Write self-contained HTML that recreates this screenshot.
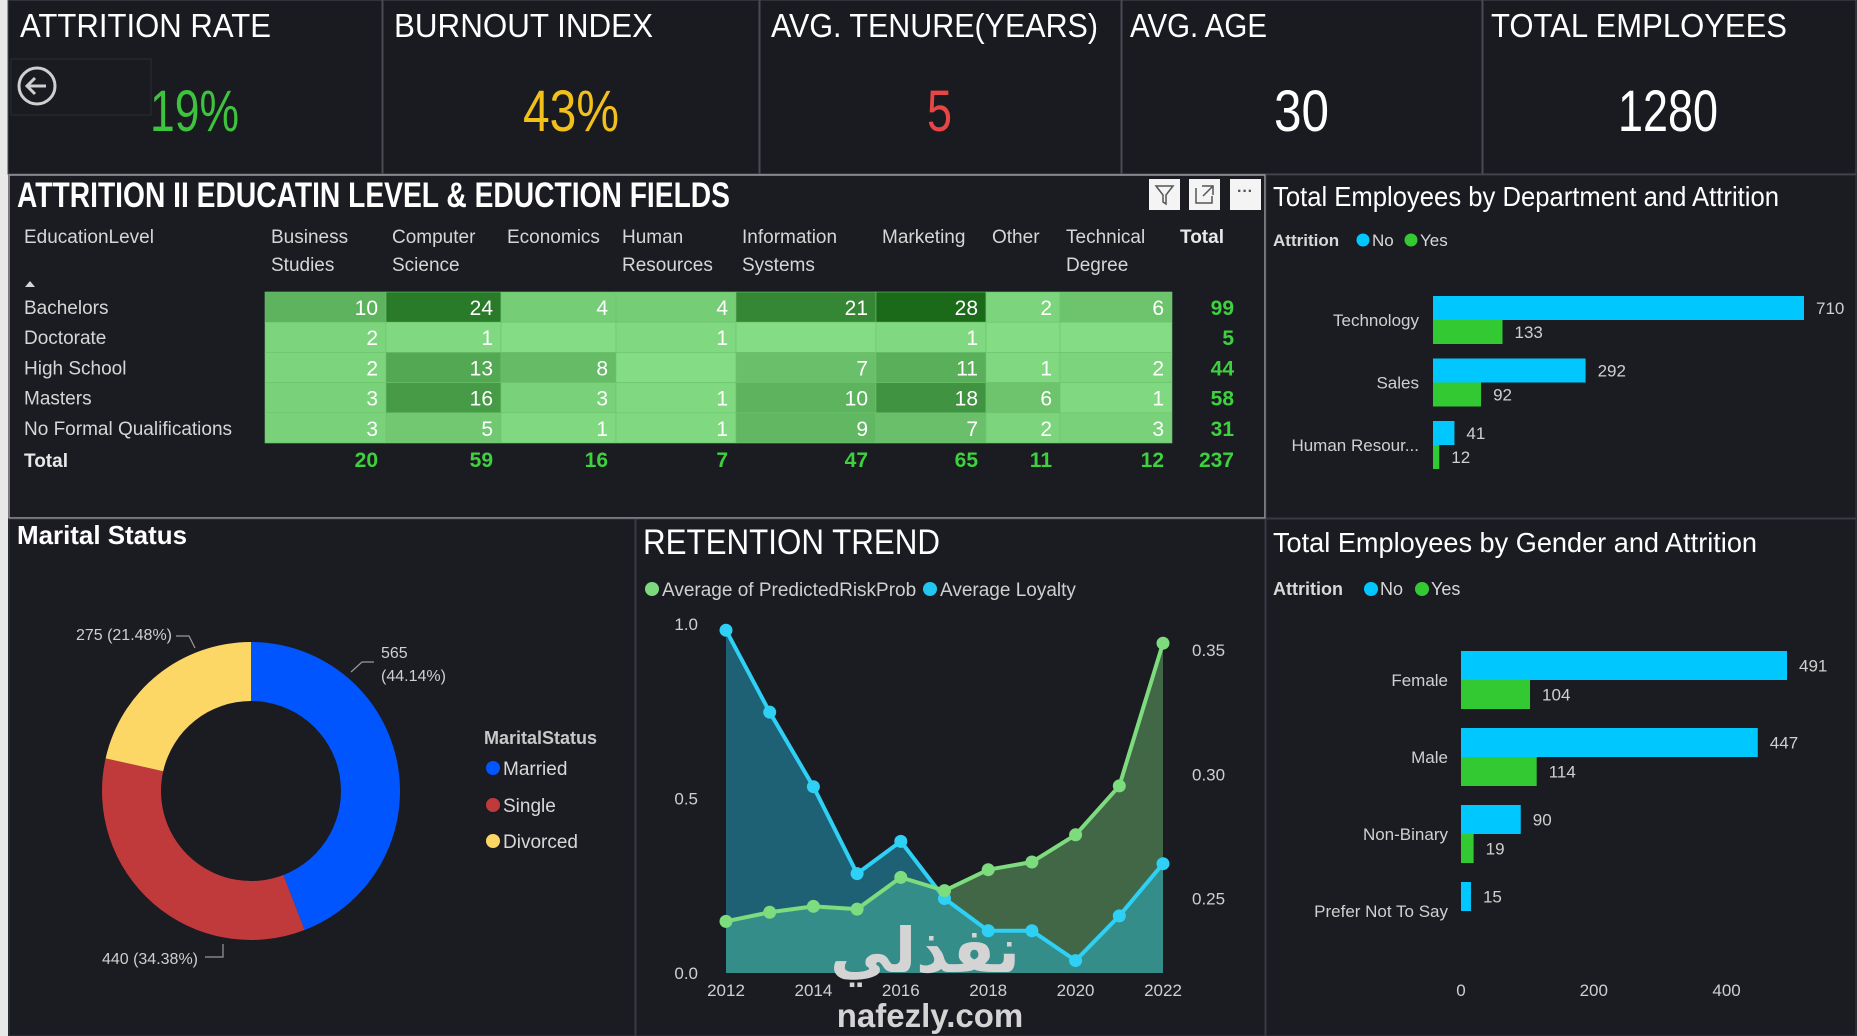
<!DOCTYPE html>
<html><head><meta charset="utf-8"><style>
html,body{margin:0;padding:0;background:#1b1b22;}
svg{display:block;font-family:"Liberation Sans",sans-serif;}
</style></head><body>
<svg id="dash" width="1857" height="1036" viewBox="0 0 1857 1036" xmlns="http://www.w3.org/2000/svg">
<rect x="0" y="0" width="1857" height="1036" fill="#1b1b22"/>
<rect x="0" y="0" width="8" height="1036" fill="#e8e8e8"/>

<!-- KPI cards -->
<g>
  <rect x="8" y="0" width="374" height="174" fill="#1a1a21" stroke="#4a4a52"/>
  <rect x="383" y="0" width="376" height="174" fill="#1a1a21" stroke="#4a4a52"/>
  <rect x="760" y="0" width="361" height="174" fill="#1a1a21" stroke="#4a4a52"/>
  <rect x="1122" y="0" width="360" height="174" fill="#1a1a21" stroke="#4a4a52"/>
  <rect x="1483" y="0" width="373" height="174" fill="#1a1a21" stroke="#4a4a52"/>
  <g fill="#ffffff" font-size="33">
    <text x="20" y="37" textLength="251" lengthAdjust="spacingAndGlyphs">ATTRITION RATE</text>
    <text x="394" y="37" textLength="259" lengthAdjust="spacingAndGlyphs">BURNOUT INDEX</text>
    <text x="771" y="37" textLength="327" lengthAdjust="spacingAndGlyphs">AVG. TENURE(YEARS)</text>
    <text x="1130" y="37" textLength="137" lengthAdjust="spacingAndGlyphs">AVG. AGE</text>
    <text x="1491" y="37" textLength="296" lengthAdjust="spacingAndGlyphs">TOTAL EMPLOYEES</text>
  </g>
  <g font-size="58" font-weight="300">
    <text x="150" y="131" fill="#3cc43c" textLength="89" lengthAdjust="spacingAndGlyphs">19%</text>
    <text x="523" y="131" fill="#f2c01a" textLength="96" lengthAdjust="spacingAndGlyphs">43%</text>
    <text x="927" y="131" fill="#e84545" textLength="25" lengthAdjust="spacingAndGlyphs">5</text>
    <text x="1274" y="131" fill="#ffffff" textLength="55" lengthAdjust="spacingAndGlyphs">30</text>
    <text x="1618" y="131" fill="#ffffff" textLength="100" lengthAdjust="spacingAndGlyphs">1280</text>
  </g>
  <g>
    <rect x="11" y="59" width="140" height="56" fill="none" stroke="#2c2c34"/>
    <circle cx="37" cy="86" r="18" fill="none" stroke="#cfcfcf" stroke-width="3"/>
    <path d="M46 86 H28 M35 78 L27 86 L35 94" fill="none" stroke="#cfcfcf" stroke-width="3"/>
  </g>
</g>

<!-- panels -->
<rect x="9" y="175" width="1256" height="343" fill="#1b1b22" stroke="#9a9a9e" stroke-width="1.5"/>
<rect x="1266" y="175" width="590" height="343" fill="#1b1b22" stroke="#3a3a42"/>
<rect x="9" y="519" width="626" height="517" fill="#1b1b22" stroke="#3a3a42"/>
<rect x="636" y="519" width="629" height="517" fill="#1b1b22" stroke="#3a3a42"/>
<rect x="1266" y="519" width="590" height="517" fill="#1b1b22" stroke="#3a3a42"/>

<!-- table -->
<text x="17" y="207" fill="#ffffff" font-size="35" font-weight="bold" textLength="713" lengthAdjust="spacingAndGlyphs">ATTRITION II EDUCATIN LEVEL &amp; EDUCTION FIELDS</text>
<g>
  <g>
    <rect x="1149" y="179" width="31" height="31" fill="#f4f4f4"/>
    <path d="M1156 186 H1173 L1166 195 V204 L1163 202 V195 Z" fill="none" stroke="#555" stroke-width="1.5"/>
  </g>
  <g>
    <rect x="1189" y="179" width="31" height="31" fill="#f4f4f4"/>
    <path d="M1196 188 V203 H1212 V196 M1202 186 H1213 V195 M1213 186 L1203 196" fill="none" stroke="#555" stroke-width="1.5"/>
  </g>
  <g>
    <rect x="1230" y="179" width="31" height="31" fill="#f4f4f4"/>
    <text x="1245" y="196" text-anchor="middle" fill="#555" font-size="16" font-weight="bold">···</text>
  </g>
</g>
<g id="table"></g>

<!-- department chart -->
<text x="1273" y="206" fill="#ffffff" font-size="28" textLength="506" lengthAdjust="spacingAndGlyphs">Total Employees by Department and Attrition</text>
<g>
  <text x="1273" y="246" fill="#d8d8d8" font-size="17" font-weight="bold">Attrition</text>
  <circle cx="1363" cy="240" r="6.5" fill="#00c8ff"/>
  <text x="1372" y="246" fill="#d8d8d8" font-size="17">No</text>
  <circle cx="1411" cy="240" r="6.5" fill="#33c933"/>
  <text x="1420" y="246" fill="#d8d8d8" font-size="17">Yes</text>
</g>
<g id="dept"></g>

<!-- marital -->
<text x="17" y="544" fill="#ffffff" font-size="26" font-weight="bold" textLength="170" lengthAdjust="spacingAndGlyphs">Marital Status</text>
<g id="donut"></g>
<g>
  <text x="484" y="744" fill="#c8c8c8" font-size="18" font-weight="bold">MaritalStatus</text>
  <circle cx="493" cy="768" r="7" fill="#0055ff"/>
  <text x="503" y="775" fill="#d8d8d8" font-size="19">Married</text>
  <circle cx="493" cy="805" r="7" fill="#c0393b"/>
  <text x="503" y="812" fill="#d8d8d8" font-size="19">Single</text>
  <circle cx="493" cy="841" r="7" fill="#fdd766"/>
  <text x="503" y="848" fill="#d8d8d8" font-size="19">Divorced</text>
</g>
<g fill="none" stroke="#9a9a9a" stroke-width="1.2">
  <path d="M351 672 L362 662 L374 662"/>
  <path d="M223 944 L223 957 L205 957"/>
  <path d="M195 648 L189 636 L176 636"/>
</g>

<!-- retention -->
<text x="643" y="554" fill="#ffffff" font-size="35" textLength="297" lengthAdjust="spacingAndGlyphs">RETENTION TREND</text>
<g>
  <circle cx="652" cy="589" r="7" fill="#7ed97e"/>
  <text x="662" y="596" fill="#d0d0d0" font-size="19">Average of PredictedRiskProb</text>
  <circle cx="930" cy="589" r="7" fill="#22c7f0"/>
  <text x="940" y="596" fill="#d0d0d0" font-size="19">Average Loyalty</text>
</g>
<g id="trend"></g>

<!-- gender -->
<text x="1273" y="552" fill="#ffffff" font-size="28" textLength="484" lengthAdjust="spacingAndGlyphs">Total Employees by Gender and Attrition</text>
<g>
  <text x="1273" y="595" fill="#d8d8d8" font-size="18" font-weight="bold">Attrition</text>
  <circle cx="1371" cy="589" r="7" fill="#00c8ff"/>
  <text x="1380" y="595" fill="#d8d8d8" font-size="18">No</text>
  <circle cx="1422" cy="589" r="7" fill="#33c933"/>
  <text x="1431" y="595" fill="#d8d8d8" font-size="18">Yes</text>
</g>
<g id="gender"></g>

<!-- watermark -->
<text x="925" y="972" text-anchor="middle" fill="#d4d4d4" font-size="62" font-weight="bold" font-family="DejaVu Sans, sans-serif">نفذلي</text>
<text x="930" y="1027" text-anchor="middle" fill="#d4d4d4" font-size="33" font-weight="bold">nafezly.com</text>
</svg>
<script>
const NS = "http://www.w3.org/2000/svg";
// ---------- data ----------
const eduLevels = ["Bachelors","Doctorate","High School","Masters","No Formal Qualifications"];
const eduFields = [["Business","Studies"],["Computer","Science"],["Economics"],["Human","Resources"],["Information","Systems"],["Marketing"],["Other"],["Technical","Degree"]];
const eduBachelors = [10,24,4,4,21,28,2,6];
const eduDoctorate = [2,1,null,1,null,1,null,null];
const eduHighSchool = [2,13,8,null,7,11,1,2];
const eduMasters = [3,16,3,1,10,18,6,1];
const eduNoFormal = [3,5,1,1,9,7,2,3];
const eduRows = [eduBachelors,eduDoctorate,eduHighSchool,eduMasters,eduNoFormal];

const deptCategories = ["Technology","Sales","Human Resour..."];
const deptNo = [710,292,41];
const deptYes = [133,92,12];

const maritalLabels = ["Married","Single","Divorced"];
const maritalValues = [565,440,275];
const maritalColors = ["#0055ff","#c0393b","#fdd766"];

const trendYears = [2012,2013,2014,2015,2016,2017,2018,2019,2020,2021,2022];
const trendRisk = [0.148,0.174,0.191,0.183,0.274,0.236,0.296,0.318,0.396,0.536,0.945];
const trendLoyalty = [0.358,0.325,0.295,0.260,0.273,0.250,0.237,0.237,0.225,0.243,0.264];
const trendLeftTicks = [0,0.5,1.0];
const trendRightTicks = [0.25,0.30,0.35];
const trendXTicks = [2012,2014,2016,2018,2020,2022];

const genderCategories = ["Female","Male","Non-Binary","Prefer Not To Say"];
const genderNo = [491,447,90,15];
const genderYes = [104,114,19,null];
const genderTicks = [0,200,400];

function mk(tag, attrs, parent, txt){
  const e = document.createElementNS(NS, tag);
  for (const k in attrs) e.setAttribute(k, attrs[k]);
  if (txt !== undefined) e.textContent = txt;
  parent.appendChild(e);
  return e;
}

// ---------- table ----------
(function(){
  const g = document.getElementById("table");
  const colEdges = [265,386,501,616,736,876,986,1060,1172];
  const rowTop = 292, rowH = 30.2;
  let t = mk("text",{x:24,y:243,fill:"#d6d6d6","font-size":19},g,"EducationLevel");
  
  
  t = mk("path",{d:"M25 287 L30 281 L35 287 Z",fill:"#d6d6d6"},g);
  
  
  eduFields.forEach((f,i)=>{
    f.forEach((w,j)=>{
      const h = mk("text",{x:(i===0?271:colEdges[i]+6),y:243+j*28,fill:"#d6d6d6","font-size":19},g,w);
      
      
    });
  });
  t = mk("text",{x:1180,y:243,fill:"#e8e8e8","font-size":19,"font-weight":"bold"},g,"Total");
  
  
  const maxV = 28;
  const colTotals = eduFields.map(()=>0);
  eduRows.forEach((row,r)=>{
    const y = rowTop + r*rowH;
    const lbl = mk("text",{x:24,y:y+22,fill:"#d6d6d6","font-size":19},g,eduLevels[r]);
    
    
    let rt = 0;
    row.forEach((v,c)=>{
      const val = v||0; rt += val; colTotals[c] += val;
      const k = val/maxV;
      const col = `rgb(${Math.round(132-106*k)},${Math.round(221-115*k)},${Math.round(132-106*k)})`;
      const cell = mk("rect",{x:colEdges[c],y:y,width:colEdges[c+1]-colEdges[c],height:rowH,fill:col,stroke:"#6cc46c","stroke-width":0.6},g);
      
      
      if (v!==null){
        const tx = mk("text",{x:colEdges[c+1]-8,y:y+23,fill:"#ffffff","font-size":21,"text-anchor":"end"},g,String(v));
        
        
      }
    });
    const tt = mk("text",{x:1234,y:y+23,fill:"#3dd13d","font-size":21,"font-weight":"bold","text-anchor":"end"},g,String(rt));
    
    
  });
  const ty = rowTop + eduRows.length*rowH + 24;
  t = mk("text",{x:24,y:ty,fill:"#e8e8e8","font-size":19,"font-weight":"bold"},g,"Total");
  
  
  let grand = 0;
  colTotals.forEach((v,c)=>{
    grand += v;
    const e = mk("text",{x:colEdges[c+1]-8,y:ty,fill:"#3dd13d","font-size":21,"font-weight":"bold","text-anchor":"end"},g,String(v));
    
    
  });
  t = mk("text",{x:1234,y:ty,fill:"#3dd13d","font-size":21,"font-weight":"bold","text-anchor":"end"},g,String(grand));
  
  
})();

// ---------- horizontal bar helper ----------
function hbars(gid, cats, noV, yesV, x0, scale, firstCenter, pitch, barH, labelX, fs){
  const g = document.getElementById(gid);
  cats.forEach((c,i)=>{
    const cy = firstCenter + i*pitch;
    const l = mk("text",{x:labelX,y:cy+6,fill:"#d0d0d0","font-size":fs,"text-anchor":"end"},g,c);
    
    
    [[noV[i],"#00c8ff",cy-barH],[yesV[i],"#33c933",cy]].forEach(([v,col,y])=>{
      if (v===null || v===undefined) return;
      const w = v*scale;
      const b = mk("rect",{x:x0,y:y,width:w,height:barH,fill:col},g);
      
      
      const t = mk("text",{x:x0+w+12,y:y+barH/2+6,fill:"#cfcfcf","font-size":fs},g,String(v));
      
      
    });
  });
}
hbars("dept", deptCategories, deptNo, deptYes, 1433, (1804-1433)/710, 320, 62.5, 24, 1419, 17);
hbars("gender", genderCategories, genderNo, genderYes, 1461, (1787-1461)/491, 680, 77, 29, 1448, 17);
(function(){
  const g = document.getElementById("gender");
  const sc = (1787-1461)/491;
  genderTicks.forEach(v=>{
    const t = mk("text",{x:1461+v*sc,y:996,fill:"#cfcfcf","font-size":17,"text-anchor":"middle"},g,String(v));
    
    
  });
})();

// ---------- donut ----------
(function(){
  const g = document.getElementById("donut");
  const cx=251, cy=791, R=149, r=90;
  const total = maritalValues.reduce((a,b)=>a+b,0);
  let a0 = -Math.PI/2;
  maritalValues.forEach((v,i)=>{
    const a1 = a0 + v/total*2*Math.PI;
    const large = (a1-a0)>Math.PI?1:0;
    const p = (a,rad)=>[cx+rad*Math.cos(a), cy+rad*Math.sin(a)];
    const [x1,y1]=p(a0,R),[x2,y2]=p(a1,R),[x3,y3]=p(a1,r),[x4,y4]=p(a0,r);
    const s = mk("path",{d:`M${x1} ${y1} A${R} ${R} 0 ${large} 1 ${x2} ${y2} L${x3} ${y3} A${r} ${r} 0 ${large} 0 ${x4} ${y4} Z`,fill:maritalColors[i]},g);
    
    
    a0 = a1;
  });
  const pct = v => (v/total*100).toFixed(2)+"%";
  let t = mk("text",{x:381,y:658,fill:"#cfcfcf","font-size":16},g,String(maritalValues[0]));
  
  
  t = mk("text",{x:381,y:681,fill:"#cfcfcf","font-size":16},g,"("+pct(maritalValues[0])+")");
  
  
  t = mk("text",{x:198,y:964,fill:"#cfcfcf","font-size":16,"text-anchor":"end"},g,maritalValues[1]+" ("+pct(maritalValues[1])+")");
  
  
  t = mk("text",{x:172,y:640,fill:"#cfcfcf","font-size":16,"text-anchor":"end"},g,maritalValues[2]+" ("+pct(maritalValues[2])+")");
  
  
})();

// ---------- retention trend ----------
(function(){
  const g = document.getElementById("trend");
  const x = yr => 726 + (yr-2012)*(1163-726)/10;
  const yL = v => 973 - v*349;
  const yR = v => 973 - (v-0.22)/(0.3605-0.22)*349;
  const base = 973;
  function area(vals, yf){
    let d = `M${x(trendYears[0])} ${base}`;
    vals.forEach((v,i)=>{ d += ` L${x(trendYears[i])} ${yf(v)}`; });
    d += ` L${x(trendYears[trendYears.length-1])} ${base} Z`;
    return d;
  }
  function line(vals, yf){
    return vals.map((v,i)=>(i?"L":"M")+x(trendYears[i])+" "+yf(v)).join(" ");
  }
  let e = mk("path",{d:area(trendRisk,yL),fill:"#7ed97e","fill-opacity":0.4},g);
  
  
  e = mk("path",{d:area(trendLoyalty,yR),fill:"#22c7f0","fill-opacity":0.4},g);
  
  
  e = mk("path",{d:line(trendLoyalty,yR),fill:"none",stroke:"#2fd0f5","stroke-width":4,"stroke-linejoin":"round"},g);
  
  
  e = mk("path",{d:line(trendRisk,yL),fill:"none",stroke:"#7ddc7d","stroke-width":4,"stroke-linejoin":"round"},g);
  
  
  trendLoyalty.forEach((v,i)=>{
    const c = mk("circle",{cx:x(trendYears[i]),cy:yR(v),r:6.5,fill:"#2fd0f5"},g);
    
    
  });
  trendRisk.forEach((v,i)=>{
    const c = mk("circle",{cx:x(trendYears[i]),cy:yL(v),r:6.5,fill:"#7ddc7d"},g);
    
    
  });
  trendLeftTicks.forEach(v=>{
    const t = mk("text",{x:698,y:yL(v)+6,fill:"#cfcfcf","font-size":17,"text-anchor":"end"},g,v.toFixed(1));
    
    
  });
  trendRightTicks.forEach(v=>{
    const t = mk("text",{x:1192,y:yR(v)+6,fill:"#cfcfcf","font-size":17},g,v.toFixed(2));
    
    
  });
  trendXTicks.forEach(yr=>{
    const t = mk("text",{x:x(yr),y:996,fill:"#cfcfcf","font-size":17,"text-anchor":"middle"},g,String(yr));
    
    
  });
})();
</script>
</body></html>
